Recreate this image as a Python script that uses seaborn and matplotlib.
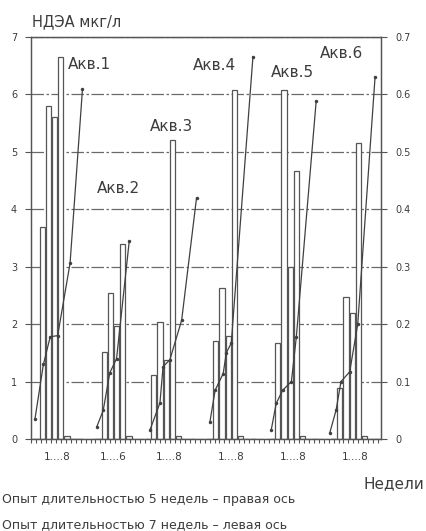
import numpy as np
import pandas as pd
import matplotlib
matplotlib.use("Agg")
import matplotlib.pyplot as plt
from matplotlib.ticker import MultipleLocator
import seaborn as sns

# Aquariums, weeks per aquarium
aquariums = ["Акв.1", "Акв.2", "Акв.3", "Акв.4", "Акв.5", "Акв.6"]
weeks_per_group = [8, 6, 8, 8, 8, 8]
week_labels = ["1....8", "1....6", "1....8", "1....8", "1....8", "1....8"]

# 7-week experiment (left axis), bar per week
bars_7w = [
    [0, 3.7, 5.8, 5.6, 6.65, 0.05, 0, 0],
    [0, 1.52, 2.55, 1.96, 3.39, 0.05],
    [0, 1.11, 2.03, 1.38, 5.2, 0.05, 0, 0],
    [0, 1.7, 2.63, 1.8, 6.08, 0.05, 0, 0],
    [0, 1.67, 6.07, 3.0, 4.66, 0.05, 0, 0],
    [0, 0.88, 2.47, 2.2, 5.16, 0.05, 0, 0],
]

# 5-week experiment (right axis), week position within group and value
line_weeks = [
    [0.84, 2.2, 3.3, 4.5, 6.5, 8.5],
    [0.8, 1.85, 2.9, 4.0, 6.05],
    [1.4, 3.0, 3.5, 4.6, 6.5, 8.9],
    [1.06, 1.9, 3.2, 3.7, 4.5, 8.0],
    [0.95, 1.75, 2.8, 4.2, 5.0, 8.2],
    [0.37, 1.4, 2.2, 3.6, 4.9, 7.7],
]
line_5w = [
    [0.035, 0.13, 0.178, 0.18, 0.306, 0.609],
    [0.021, 0.05, 0.115, 0.14, 0.345],
    [0.016, 0.063, 0.126, 0.138, 0.207, 0.42],
    [0.03, 0.085, 0.114, 0.15, 0.167, 0.666],
    [0.016, 0.062, 0.085, 0.1, 0.178, 0.589],
    [0.01, 0.05, 0.1, 0.117, 0.2, 0.631],
]

# label positions (week offset within group, left-axis value)
label_pos = [(5.2, 6.52), (-0.15, 4.36), (0.4, 5.45), (-2.7, 6.5), (-0.1, 6.38), (-2.2, 6.72)]

gap = 2
group_start = np.cumsum([0] + [n + gap for n in weeks_per_group[:-1]])

bar_rows = []
line_rows = []
for g, start in enumerate(group_start):
    for w, h in enumerate(bars_7w[g]):
        bar_rows.append({"x": start + w, "h": h})
    for w, v in zip(line_weeks[g], line_5w[g]):
        line_rows.append({"x": start + w - 1, "v": v, "group": g})
bar_df = pd.DataFrame(bar_rows)
line_df = pd.DataFrame(line_rows)

sns.set_style("white")
plt.rcParams["font.family"] = ["DejaVu Sans"]
ink = "#3c3c3c"

fig = plt.figure(figsize=(4.26, 5.31), dpi=100)
ax = fig.add_axes([31 / 426, 1 - 439 / 531, 350 / 426, 402 / 531])

sns.barplot(data=bar_df, x="x", y="h", native_scale=True, width=0.85,
            color="white", edgecolor="#555555", linewidth=0.9,
            errorbar=None, ax=ax)

ax2 = ax.twinx()
sns.lineplot(data=line_df, x="x", y="v", units="group", estimator=None,
             sort=False, color="#404040", linewidth=0.9, marker="o",
             markersize=2.5, markeredgewidth=0, legend=False, ax=ax2)

xmin = -0.8
xmax = xmin + 350 / 6.2
ax.set_xlim(xmin, xmax)
ax.set_ylim(0, 7)
ax2.set_ylim(0, 0.7)

ax.set_yticks(range(8))
ax.set_yticklabels([str(i) for i in range(8)])
ax2.set_yticks(np.arange(8) / 10)
ax2.set_yticklabels(["0"] + [f"{i / 10:.1f}" for i in range(1, 8)])

centers = [s + (n - 1) / 2 for s, n in zip(group_start, weeks_per_group)]
ax.set_xticks(centers)
ax.set_xticklabels(week_labels)
ax.xaxis.set_minor_locator(MultipleLocator(0.8))

ax.tick_params(axis="x", which="major", length=0, pad=9, labelsize=7.5, labelcolor=ink)
ax.tick_params(axis="x", which="minor", length=3, width=0.8, color="#555555", direction="out", bottom=True)
ax.tick_params(axis="y", length=4, width=0.8, color="#555555", labelsize=7, labelcolor=ink, pad=6)
ax2.tick_params(axis="y", length=4, width=0.8, color="#555555", labelsize=7, labelcolor=ink, pad=6)

ax.set_xlabel("")
ax.set_ylabel("")
ax2.set_xlabel("")
ax2.set_ylabel("")

ax.yaxis.grid(True, color="#6a6a6a", linestyle=(0, (10, 2, 2, 2)), linewidth=0.9)
ax.set_axisbelow(True)
for a in (ax, ax2):
    for sp in a.spines.values():
        sp.set_color("#555555")
        sp.set_linewidth(0.9)
        sp.set_visible(True)

for g, (dx, y) in enumerate(label_pos):
    ax.text(group_start[g] + dx, y, aquariums[g], fontsize=11, color=ink,
            va="center", ha="left")

fig.text(32 / 426, 1 - 22 / 531, "НДЭА мкг/л", fontsize=10.5, color=ink, va="center")
fig.text(424 / 426, 1 - 484 / 531, "Недели", fontsize=11, color=ink, va="center", ha="right")
fig.text(2 / 426, 1 - 500 / 531, "Опыт длительностью 5 недель – правая ось",
         fontsize=9, color=ink, va="center")
fig.text(2 / 426, 1 - 525 / 531, "Опыт длительностью 7 недель – левая ось",
         fontsize=9, color=ink, va="center")

fig.savefig("out.png", dpi=100)
